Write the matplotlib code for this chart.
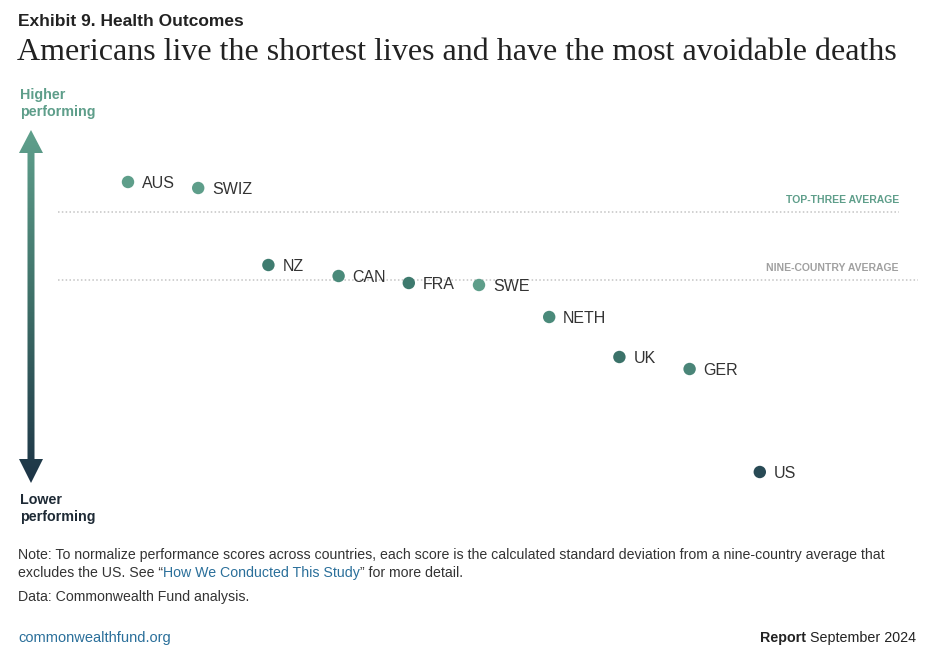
import numpy as np
import matplotlib
matplotlib.use("Agg")
import matplotlib.pyplot as plt
from matplotlib.path import Path
from matplotlib.patches import PathPatch
from matplotlib.colors import LinearSegmentedColormap
import matplotlib.transforms as mtransforms

# Health outcomes performance scores (std. deviations from nine-country average)
countries = ["AUS", "SWIZ", "NZ", "CAN", "FRA", "SWE", "NETH", "UK", "GER", "US"]
scores = [0.98, 0.92, 0.15, 0.04, -0.03, -0.05, -0.37, -0.77, -0.89, -1.92]
dot_colors = ["#5e9e8a", "#5e9e8a", "#3f7c70", "#4a8a7a", "#3e7a6e",
              "#5e9e8a", "#4a8a7a", "#3b7269", "#4a8578", "#284a55"]

top_three_avg = np.mean(sorted(scores, reverse=True)[:3])
nine_avg = np.mean([s for c, s in zip(countries, scores) if c != "US"])

W, H = 932, 668
fig = plt.figure(figsize=(W / 100, H / 100), dpi=100)
fig.patch.set_facecolor("white")

# main data axes: x index -> pixel 128 + 70.2*i, score -> pixel 280 - 100*v
px0, dx = 128, 70.2
ax = fig.add_axes([0, 1 - 520 / H, 1, 400 / H])
ax.set_xlim(-px0 / dx, (W - px0) / dx)
ax.set_ylim(-2.4, 1.6)
ax.axis("off")

xs = np.arange(len(countries))
ax.scatter(xs, scores, s=80, c=dot_colors, zorder=3, linewidths=0)
for x, y, c in zip(xs, scores, countries):
    ax.annotate(c, (x, y), xytext=(10, -1), textcoords="offset points",
                va="center", ha="left", fontsize=11.5, color="#333333",
                family="Liberation Sans")

# reference lines (x in figure fraction, y in data)
blend = mtransforms.blended_transform_factory(fig.transFigure, ax.transData)
ax.plot([58 / W, 899 / W], [top_three_avg] * 2, transform=blend,
        color="#c4c4c4", lw=1.1, ls=(0, (1, 1.5)), zorder=1)
ax.plot([58 / W, 918 / W], [nine_avg] * 2, transform=blend,
        color="#c4c4c4", lw=1.1, ls=(0, (1, 1.5)), zorder=1)
ax.text(899 / W, top_three_avg + 0.07, "TOP-THREE AVERAGE", transform=blend,
        ha="right", va="bottom", fontsize=7.5, color="#5e9e8a",
        fontweight="bold", family="Liberation Sans")
ax.text(899 / W, nine_avg + 0.07, "NINE-COUNTRY AVERAGE", transform=blend,
        ha="right", va="bottom", fontsize=7.5, color="#a0a0a0",
        fontweight="bold", family="Liberation Sans")

# overlay axes in pixel coordinates for decorations
deco = fig.add_axes([0, 0, 1, 1], zorder=-1)
deco.set_xlim(0, W)
deco.set_ylim(H, 0)
deco.axis("off")

# gradient double-headed arrow
cx, sw, hw = 31, 3.5, 12
top_tip, top_base, bot_base, bot_tip = 130, 153, 459, 483
verts = [(cx, top_tip), (cx + hw, top_base), (cx + sw, top_base),
         (cx + sw, bot_base), (cx + hw, bot_base), (cx, bot_tip),
         (cx - hw, bot_base), (cx - sw, bot_base), (cx - sw, top_base),
         (cx - hw, top_base), (cx, top_tip)]
arrow = PathPatch(Path(verts, closed=True), fc="none", ec="none",
                  transform=deco.transData)
deco.add_patch(arrow)
cmap = LinearSegmentedColormap.from_list("perf", ["#5fa08c", "#3d6e67", "#1d3446"])
grad = np.linspace(0, 1, 256).reshape(-1, 1)
im = deco.imshow(grad, cmap=cmap, aspect="auto",
                 extent=(cx - hw, cx + hw, bot_tip, top_tip), origin="upper")
im.set_clip_path(arrow)
deco.set_xlim(0, W)
deco.set_ylim(H, 0)

sans = "Liberation Sans"
for txt, y, col in [("Higher", 95, "#5e9e8a"), ("performing", 112, "#5e9e8a"),
                    ("Lower", 500, "#1e2a35"), ("performing", 517, "#1e2a35")]:
    deco.text(20, y, txt, fontsize=10.3, fontweight="bold", color=col,
              va="center", family=sans)

# titles
deco.text(18, 21, "Exhibit 9. Health Outcomes", fontsize=12.5, fontweight="bold",
          color="#222222", va="center", family=sans)
deco.text(17, 53, "Americans live the shortest lives and have the most avoidable deaths",
          fontsize=23, color="#222222", va="center", family="Liberation Serif")

# notes, with inline colored pieces
renderer = fig.canvas.get_renderer()


def run_text(x, y, parts, size=10.2):
    for txt, color, weight in parts:
        t = deco.text(x, y, txt, fontsize=size, color=color, fontweight=weight,
                      va="center", family=sans)
        bb = t.get_window_extent(renderer)
        x += bb.width


run_text(18, 555, [("Note: To normalize performance scores across countries, each score is "
                    "the calculated standard deviation from a nine-country average that",
                    "#333333", "normal")])
run_text(18, 573, [("excludes the US. See \u201c", "#333333", "normal"),
                   ("How We Conducted This Study", "#2a6f9a", "normal"),
                   ("\u201d for more detail.", "#333333", "normal")])
run_text(18, 597, [("Data: Commonwealth Fund analysis.", "#333333", "normal")])
run_text(18, 638, [("commonwealthfund.org", "#2a6f9a", "normal")], size=10.5)

t2 = deco.text(916, 638, " September 2024", fontsize=10.3, color="#222222",
               va="center", ha="right", family=sans)
w2 = t2.get_window_extent(renderer).width
deco.text(916 - w2, 638, "Report", fontsize=10.3, color="#222222", fontweight="bold",
          va="center", ha="right", family=sans)

fig.savefig("out.png", dpi=100, facecolor="white")
